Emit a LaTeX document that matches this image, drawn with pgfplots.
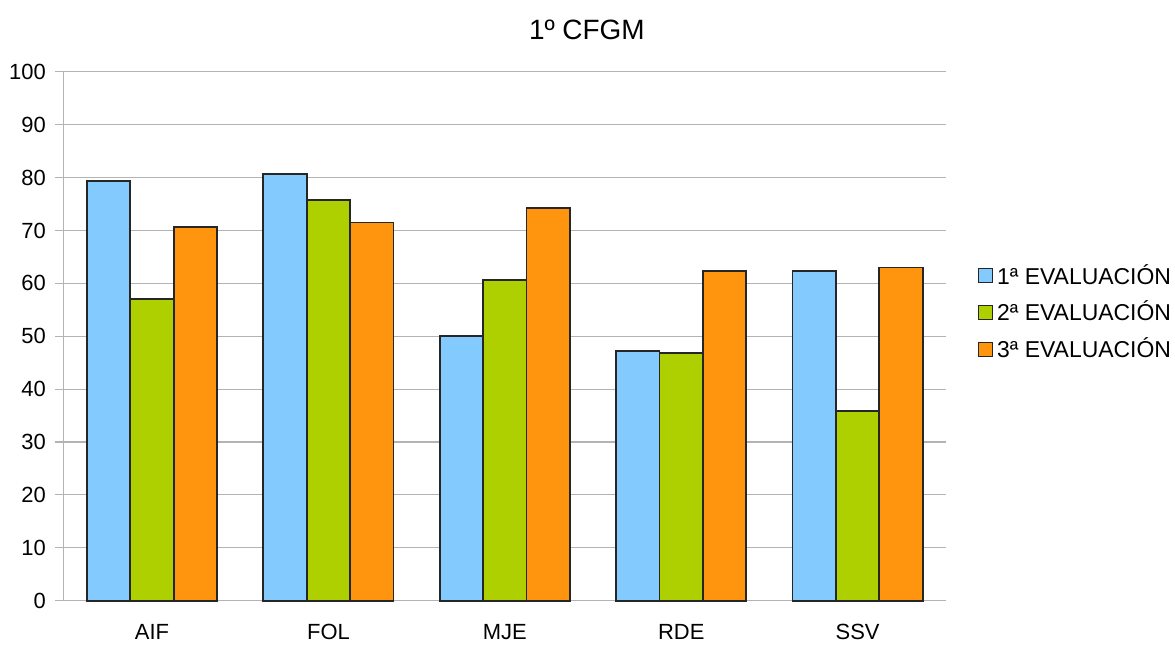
\documentclass[border=0pt]{standalone}
\usepackage{pgfplots}
\pgfplotsset{compat=1.18}
\usepackage{fontspec}
\setmainfont{Liberation Sans}
\definecolor{evalA}{HTML}{83CAFF}
\definecolor{evalB}{HTML}{AECF00}
\definecolor{evalC}{HTML}{FF950E}
\definecolor{gridgray}{HTML}{B3B3B3}
\begin{document}
\begin{tikzpicture}[x=1pt,y=1pt]
% canvas size (1175x641 px at 0.5pt/px)
\path (-32,-19.5) rectangle (555.5,301);
\begin{axis}[
    at={(0,0)}, anchor=south west,
    scale only axis,
    width=442pt, height=265pt,
    ybar=0pt, bar width=21.75pt,
    xmin=-0.5, xmax=4.5,
    ymin=0, ymax=100,
    ytick={0,10,...,100},
    xtick={0,1,2,3,4},
    xticklabels={AIF,FOL,MJE,RDE,SSV},
    major x tick style={draw=none},
    extra x ticks={-0.5,0.5,1.5,2.5,3.5,4.5},
    extra x tick labels={},
    extra x tick style={major tick length=4.5pt, tick align=outside, tick style={draw=gridgray, line width=0.6pt}, grid=none},
    axis lines*=left,
    axis line style={draw=gridgray, line width=0.6pt},
    ymajorgrids,
    grid style={draw=gridgray, line width=0.6pt},
    ytick style={draw=gridgray, line width=0.6pt},
    tick align=outside, major tick length=4.5pt,
    tick label style={font=\fontsize{11}{13}\selectfont, text=black},
    /pgf/number format/assume math mode=true,
    xticklabel style={yshift=-4pt},
    yticklabel style={xshift=-1pt},
    legend style={at={(1.036,0.545)}, anchor=west, draw=none, fill=none, inner sep=0pt,
      font=\fontsize{11.5}{13}\selectfont, row sep=3pt,
      /tikz/every even column/.append style={column sep=2pt}},
    legend image code/.code={\draw[#1, line width=0.6pt] (0pt,-3.5pt) rectangle (7pt,3.5pt);},
    legend cell align=left,
    clip=false,
]
\addplot[fill=evalA, draw=black!85, line width=0.9pt] coordinates {(0,79.4) (1,80.7) (2,50.0) (3,47.2) (4,62.3)};
\addplot[fill=evalB, draw=black!85, line width=0.9pt] coordinates {(0,57.0) (1,75.8) (2,60.6) (3,46.8) (4,35.8)};
\addplot[fill=evalC, draw=black!85, line width=0.9pt] coordinates {(0,70.6) (1,71.5) (2,74.2) (3,62.3) (4,63.0)};
\legend{1ª EVALUACIÓN, 2ª EVALUACIÓN, 3ª EVALUACIÓN}
\node[font=\fontsize{14}{16}\selectfont, anchor=center] at (rel axis cs:0.593,1.079) {1º CFGM};
\end{axis}
\end{tikzpicture}
\end{document}
